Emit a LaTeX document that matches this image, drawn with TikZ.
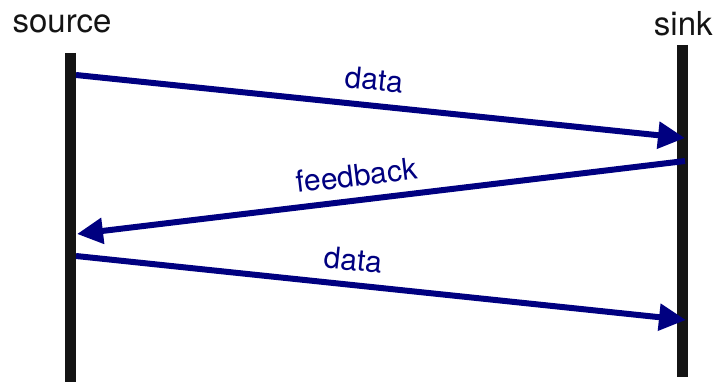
\documentclass[tikz,border=0pt]{standalone}
\usepackage{fontspec}
\setmainfont{TeX Gyre Heros}
\usetikzlibrary{arrows.meta}
\definecolor{msgblue}{RGB}{0,0,128}
\definecolor{lifeblack}{RGB}{20,20,20}
\begin{document}
\begin{tikzpicture}[x=1pt,y=-1pt,
  lifeline/.style={draw=lifeblack, line width=11pt},
  msg/.style={draw=msgblue, line width=6pt},
  tipend/.style={-{Triangle[length=27pt,width=26pt]}},
  tipstart/.style={{Triangle[length=26pt,width=25pt]}-},
  party/.style={font=\fontsize{33}{40}\selectfont, text=lifeblack, inner sep=0pt, anchor=base},
  msglabel/.style={font=\fontsize{30}{36}\selectfont, text=msgblue, inner sep=0pt, sloped}
]
\useasboundingbox (0,0) rectangle (716,382);
\coordinate (srcTop) at (70.5,53);
\coordinate (srcBot) at (70.5,382);
\coordinate (snkTop) at (682.5,45);
\coordinate (snkBot) at (682.5,377);
\coordinate (m1s) at (76,75);
\coordinate (m1e) at (685,138);
\coordinate (m2s) at (685,161);
\coordinate (m2e) at (77,234);
\coordinate (m3s) at (76,256);
\coordinate (m3e) at (686,320);
\node[party] (source) at (62,33) {source};
\node[party] (sink) at (683.3,35.5) {sink};
\draw[lifeline] (srcTop) -- (srcBot);
\draw[lifeline] (snkTop) -- (snkBot);
\draw[msg,tipend] (m1s) -- node[msglabel,pos=0.485,above=12pt] (l1) {data} (m1e);
\draw[msg,tipstart] (m2e) -- node[msglabel,pos=0.465,above=11pt] (l2) {feedback} (m2s);
\draw[msg,tipend] (m3s) -- node[msglabel,pos=0.45,above=11pt] (l3) {data} (m3e);
\end{tikzpicture}
\end{document}
